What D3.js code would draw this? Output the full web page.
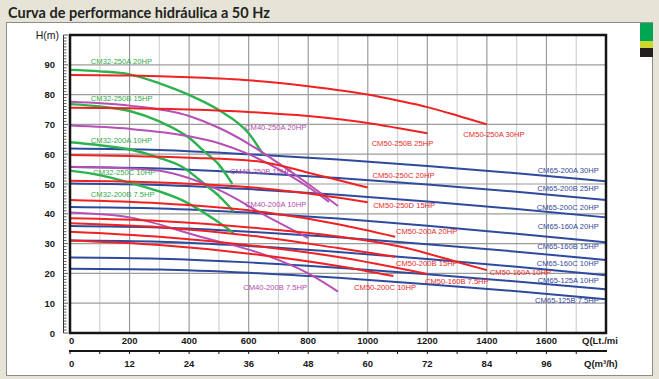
<!DOCTYPE html>
<html>
<head>
<meta charset="utf-8">
<script src="https://cdnjs.cloudflare.com/ajax/libs/d3/7.8.5/d3.min.js"></script>
<style>
  body { margin: 0; background: #e6e4d7; }
  svg { display: block; }
</style>
</head>
<body>
<svg id="chart"></svg>
<script>
// axis ticks
const qTicks = [0, 200, 400, 600, 800, 1000, 1200, 1400, 1600];
const m3Ticks = [0, 12, 24, 36, 48, 60, 72, 84, 96];
const hTicks = [0, 10, 20, 30, 40, 50, 60, 70, 80, 90];

// CM32 pumps (green) - Q in Lt/min, H in m
const cm32Names = ['CM32-250A 20HP', 'CM32-250B 15HP', 'CM32-200A 10HP', 'CM32-250C 10HP', 'CM32-200B 7.5HP'];
const cm32Q = [
  [0, 100, 200, 300, 400, 500, 600, 650],
  [0, 100, 200, 300, 400, 450, 500, 545],
  [0, 100, 209, 300, 376, 455, 500, 550],
  [0, 100, 209, 300, 376, 488, 550]
];
const cm32H = [
  [88.3, 87.8, 86.8, 83.8, 79.9, 74.8, 67, 59.7],
  [76.8, 76, 74.5, 71, 65.5, 61, 56.5, 50],
  [64, 63, 61.4, 58.8, 55.8, 49.7, 46, 40.7],
  [54.5, 53, 50.2, 47.5, 44.6, 37.9, 33.5]
];
const cm32LabelQ = [70, 70, 70, 78, 70];
const cm32LabelH = [90.3, 77.9, 63.6, 53, 45.8];

// CM40 pumps (magenta)
const cm40Names = ['CM40-250A 20HP', 'CM40-250B 15HP', 'CM40-200A 10HP', 'CM40-200B 7.5HP'];
const cm40Q = [
  [0, 200, 400, 503, 600, 700, 800, 900],
  [0, 200, 400, 503, 600, 700, 800, 870],
  [0, 200, 320, 500, 655, 800],
  [0, 200, 438, 655, 800, 900]
];
const cm40H = [
  [77.6, 76.3, 72.8, 68.7, 63.5, 57, 50, 42.6],
  [69.6, 68.5, 66, 63.6, 60, 55, 49, 44],
  [55.8, 55.2, 54.1, 48, 39.5, 31.8],
  [40.4, 38.8, 32.3, 26.2, 20, 13.9]
];
const cm40LabelQ = [588, 537, 588, 582];
const cm40LabelH = [68, 53.4, 42.3, 14.4];

// CM50 pumps (red)
const cm50Names = ['CM50-250A 30HP', 'CM50-250B 25HP', 'CM50-250C 20HP', 'CM50-250D 15HP', 'CM50-200A 20HP',
  'CM50-200B 15HP', 'CM50-200C 10HP', 'CM50-160A 10HP', 'CM50-160B 7.5HP'];
const cm50Q = [
  [0, 200, 400, 600, 800, 1000, 1100, 1200, 1300, 1400],
  [0, 200, 400, 600, 800, 1000, 1100, 1200],
  [0, 200, 400, 640, 800, 1000],
  [0, 300, 650, 800, 1000],
  [0, 300, 655, 900, 1092],
  [0, 300, 638, 900, 1092],
  [0, 300, 638, 900, 1086],
  [0, 300, 640, 900, 1108, 1309, 1400],
  [0, 300, 638, 900, 1200]
];
const cm50H = [
  [86.6, 86.4, 85.8, 84.8, 82.8, 80, 78, 75.8, 73, 70],
  [75.6, 75.4, 75, 74.2, 72.8, 70.5, 68.8, 67],
  [59.7, 59.4, 58.8, 57.5, 53.8, 48.8],
  [51.1, 50.5, 48.5, 46.8, 43.9],
  [44.6, 43.5, 40.5, 36.5, 32.3],
  [36.8, 35.5, 32.3, 28.5, 25.6],
  [31, 29.5, 26.2, 22.5, 19.1],
  [38.5, 37.6, 35.1, 32.4, 29, 23.6, 21.1],
  [34, 32.3, 29, 25.5, 19.8]
];
const cm50LabelQ = [1321, 1013, 1016, 1018, 1095, 1095, 954, 1410, 1192];
const cm50LabelH = [65.9, 62.8, 52, 41.9, 33.2, 22.5, 14.4, 19.5, 16.4];

// CM65 pumps (blue)
const cm65Names = ['CM65-200A 30HP', 'CM65-200B 25HP', 'CM65-200C 20HP', 'CM65-160A 20HP',
  'CM65-160B 15HP', 'CM65-160C 10HP', 'CM65-125A 10HP', 'CM65-125B 7.5HP'];
const cm65Q = [0, 300, 600, 900, 1200, 1500, 1800];
const cm65H = [
  [61.9, 61.4, 60, 58.2, 56, 53.6, 50.9],
  [55.7, 55.2, 53.8, 52, 49.8, 47.4, 44.6],
  [50.2, 49.7, 48.3, 46.4, 44.1, 41.6, 38.8],
  [42.3, 41.8, 40.4, 38.4, 36, 33.3, 30.4],
  [35.9, 35.4, 34, 32.1, 29.8, 27.3, 24.5],
  [31, 30.6, 29.2, 27.2, 24.8, 22.2, 19.4],
  [25.3, 24.9, 23.7, 21.9, 19.7, 17.3, 14.7],
  [21.6, 21.3, 20.2, 18.5, 16.4, 14, 11.3]
];
const cm65LabelQ = 1776;
const cm65LabelH = [53.7, 47.8, 41.3, 34.9, 28.2, 22.5, 16.8, 10.1];

const width = 659, height = 379;
const svg = d3.select('#chart').attr('width', width).attr('height', height);

const plot = {left: 70, right: 606, top: 35, bottom: 333};
const x = d3.scaleLinear().domain([0, 1800]).range([plot.left, plot.right]);
const xM3 = d3.scaleLinear().domain([0, 108]).range([plot.left, plot.right]); // m3/h = Lt/min * 0.06
const y = d3.scaleLinear().domain([0, 100]).range([plot.bottom, plot.top]);

const font = '"Liberation Sans", Arial, sans-serif';

// title
svg.append('text')
  .attr('x', 8).attr('y', 18)
  .style('font-family', 'Lato, "DejaVu Sans", sans-serif')
  .style('font-size', '14.5px').style('font-weight', 'bold')
  .attr('fill', '#222')
  .text('Curva de performance hidráulica a 50 Hz');

// white panel
svg.append('rect')
  .attr('x', 6.5).attr('y', 22.5).attr('width', 646).attr('height', 353)
  .attr('fill', '#fff').attr('stroke', '#8c8c8c');

// colour tabs on the right
const tabs = [['#00a651', 23, 18], ['#cbd82f', 41, 7], ['#231f20', 48, 9]];
svg.selectAll('.tab').data(tabs).enter().append('rect')
  .attr('x', 640).attr('width', 13)
  .attr('y', d => d[1]).attr('height', d => d[2])
  .attr('fill', d => d[0]);

// grid
const g = svg.append('g');
g.selectAll('.vgrid').data(d3.range(100, 1800, 100)).enter().append('line')
  .attr('x1', d => x(d)).attr('x2', d => x(d))
  .attr('y1', plot.top).attr('y2', plot.bottom)
  .attr('stroke', d => d % 200 === 0 ? '#9c9c9c' : '#d2d2d2')
  .attr('stroke-width', 1.2);
g.selectAll('.hgrid').data(hTicks.slice(1)).enter().append('line')
  .attr('x1', plot.left).attr('x2', plot.right)
  .attr('y1', d => y(d)).attr('y2', d => y(d))
  .attr('stroke', '#9c9c9c').attr('stroke-width', 1.2);

// curves
const line = d3.line()
  .x(d => x(d[0]))
  .y(d => y(d[1]))
  .curve(d3.curveMonotoneX);

function drawFamily(qs, hs, color, width) {
  g.append('g').selectAll('path').data(hs).enter().append('path')
    .attr('d', (h, i) => line(h.map((v, j) => [Array.isArray(qs[0]) ? qs[i][j] : qs[j], v])))
    .attr('fill', 'none')
    .attr('stroke', color)
    .attr('stroke-width', width);
}
drawFamily(cm65Q, cm65H, '#2e4a9e', 2);
drawFamily(cm32Q, cm32H, '#2db24f', 2.4);
drawFamily(cm40Q, cm40H, '#b64fb6', 2);
drawFamily(cm50Q, cm50H, '#ee2222', 2);

// curve labels
function drawLabels(names, qs, hs, color, anchor) {
  g.append('g').selectAll('text').data(names).enter().append('text')
    .attr('x', (d, i) => x(Array.isArray(qs) ? qs[i] : qs))
    .attr('y', (d, i) => y(hs[i]))
    .attr('text-anchor', anchor)
    .style('font-family', font).style('font-size', '7.6px')
    .attr('fill', color)
    .text(d => d);
}
drawLabels(cm32Names, cm32LabelQ, cm32LabelH, '#35a94a', 'start');
drawLabels(cm40Names, cm40LabelQ, cm40LabelH, '#b04aae', 'start');
drawLabels(cm50Names, cm50LabelQ, cm50LabelH, '#e8281e', 'start');
drawLabels(cm65Names, cm65LabelQ, cm65LabelH, '#33489c', 'end');

// frame
svg.append('rect')
  .attr('x', plot.left).attr('y', plot.top)
  .attr('width', plot.right - plot.left).attr('height', plot.bottom - plot.top)
  .attr('fill', 'none').attr('stroke', '#151515').attr('stroke-width', 2.5);

// ruler on the left of the H axis
svg.append('line')
  .attr('x1', 63.5).attr('x2', 63.5).attr('y1', y(100)).attr('y2', y(0))
  .attr('stroke', '#333').attr('stroke-width', 1);
svg.selectAll('.rtick').data(d3.range(0, 101)).enter().append('line')
  .attr('x1', 63.5).attr('x2', d => d % 10 === 0 ? 68 : 66.5)
  .attr('y1', d => y(d)).attr('y2', d => y(d))
  .attr('stroke', '#333').attr('stroke-width', 0.8);

// H labels
svg.selectAll('.ylab').data(hTicks).enter().append('text')
  .attr('x', 55).attr('y', d => y(d) + 3.5)
  .attr('text-anchor', 'end')
  .style('font-family', font).style('font-size', '9.5px').style('font-weight', 'bold')
  .attr('fill', '#1a1a1a')
  .text(d => d);
svg.append('text')
  .attr('x', 59).attr('y', 39)
  .attr('text-anchor', 'end')
  .style('font-family', font).style('font-size', '10.5px')
  .attr('fill', '#1a1a1a')
  .text('H(m)');

// Q labels (Lt/min)
svg.selectAll('.xlab').data(qTicks).enter().append('text')
  .attr('x', d => x(d) - (d === 0 ? 1 : 0)).attr('y', 343.5)
  .attr('text-anchor', d => d === 0 ? 'start' : 'middle')
  .style('font-family', font).style('font-size', '9.5px').style('font-weight', 'bold')
  .attr('fill', '#1a1a1a')
  .text(d => d);

svg.append('clipPath').attr('id', 'qclip')
  .append('rect').attr('x', 570).attr('y', 330).attr('width', 48).attr('height', 20);
svg.append('text')
  .attr('x', 582).attr('y', 343.5)
  .attr('clip-path', 'url(#qclip)')
  .style('font-family', font).style('font-size', '9.5px').style('font-weight', 'bold')
  .attr('fill', '#1a1a1a')
  .text('Q(Lt./min)');

// second axis in m3/h
svg.append('line')
  .attr('x1', plot.left - 1).attr('x2', plot.right + 1)
  .attr('y1', 351).attr('y2', 351)
  .attr('stroke', '#151515').attr('stroke-width', 2);
svg.selectAll('.m3tick').data(d3.range(0, 108, 6)).enter().append('line')
  .attr('x1', d => xM3(d)).attr('x2', d => xM3(d))
  .attr('y1', 351).attr('y2', 354)
  .attr('stroke', '#151515').attr('stroke-width', 1);
svg.selectAll('.m3lab').data(m3Ticks).enter().append('text')
  .attr('x', d => xM3(d) - (d === 0 ? 1 : 0)).attr('y', 367)
  .attr('text-anchor', d => d === 0 ? 'start' : 'middle')
  .style('font-family', font).style('font-size', '9.5px').style('font-weight', 'bold')
  .attr('fill', '#1a1a1a')
  .text(d => d);
svg.append('text')
  .attr('x', 584).attr('y', 367)
  .style('font-family', font).style('font-size', '9.5px').style('font-weight', 'bold')
  .attr('fill', '#1a1a1a')
  .text('Q(m³/h)');
</script>
</body>
</html>
